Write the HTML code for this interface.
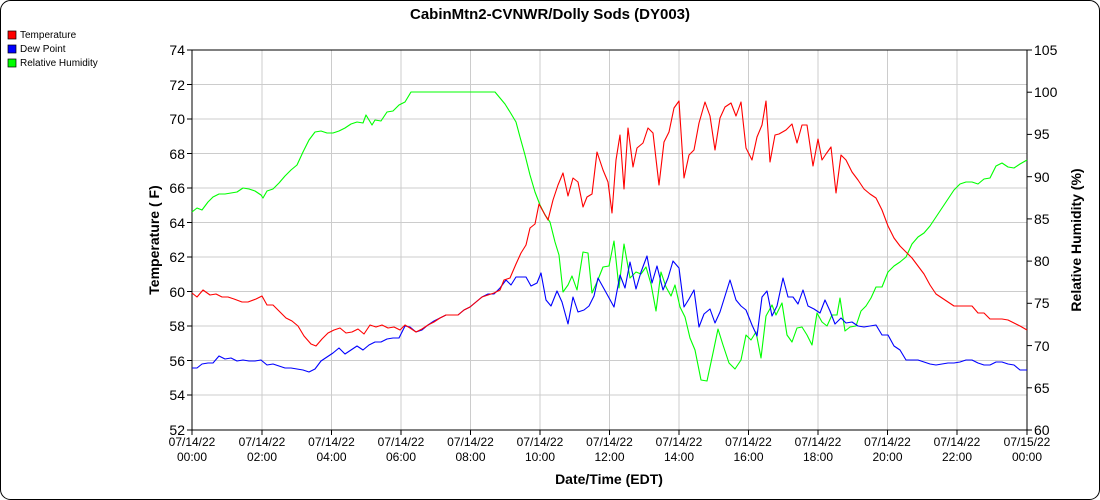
<!DOCTYPE html>
<html><head><meta charset="utf-8"><style>
html,body{margin:0;padding:0;background:#fff}
svg{display:block;font-family:"Liberation Sans",sans-serif}
</style></head><body>
<svg width="1100" height="500" viewBox="0 0 1100 500">
<rect x="0.5" y="0.5" width="1099" height="499" rx="10" fill="#fff" stroke="#000"/>
<text x="550" y="19" font-size="15" font-weight="bold" text-anchor="middle">CabinMtn2-CVNWR/Dolly Sods (DY003)</text>
<rect x="8" y="31" width="8" height="8" fill="#f00" stroke="#000" stroke-width="0.7"/>
<text x="20" y="38" font-size="10">Temperature</text>
<rect x="8" y="45" width="8" height="8" fill="#00f" stroke="#000" stroke-width="0.7"/>
<text x="20" y="52" font-size="10">Dew Point</text>
<rect x="8" y="59" width="8" height="8" fill="#0f0" stroke="#000" stroke-width="0.7"/>
<text x="20" y="66" font-size="10">Relative Humidity</text>
<g stroke="#ccc" stroke-width="1">
<line x1="262" y1="50" x2="262" y2="430"/><line x1="331.5" y1="50" x2="331.5" y2="430"/><line x1="401" y1="50" x2="401" y2="430"/><line x1="470.5" y1="50" x2="470.5" y2="430"/><line x1="540" y1="50" x2="540" y2="430"/><line x1="609.5" y1="50" x2="609.5" y2="430"/><line x1="679" y1="50" x2="679" y2="430"/><line x1="748.5" y1="50" x2="748.5" y2="430"/><line x1="818" y1="50" x2="818" y2="430"/><line x1="887.5" y1="50" x2="887.5" y2="430"/><line x1="957" y1="50" x2="957" y2="430"/>
<line x1="192" y1="84.5" x2="1027" y2="84.5"/><line x1="192" y1="119" x2="1027" y2="119"/><line x1="192" y1="153.5" x2="1027" y2="153.5"/><line x1="192" y1="188" x2="1027" y2="188"/><line x1="192" y1="222.5" x2="1027" y2="222.5"/><line x1="192" y1="257" x2="1027" y2="257"/><line x1="192" y1="291.5" x2="1027" y2="291.5"/><line x1="192" y1="326" x2="1027" y2="326"/><line x1="192" y1="360.5" x2="1027" y2="360.5"/><line x1="192" y1="395" x2="1027" y2="395"/>
</g>
<rect x="192" y="50" width="835" height="380" fill="none" stroke="#000"/>
<g stroke="#000">
<line x1="187" y1="50" x2="192" y2="50"/><line x1="187" y1="84.5" x2="192" y2="84.5"/><line x1="187" y1="119" x2="192" y2="119"/><line x1="187" y1="153.5" x2="192" y2="153.5"/><line x1="187" y1="188" x2="192" y2="188"/><line x1="187" y1="222.5" x2="192" y2="222.5"/><line x1="187" y1="257" x2="192" y2="257"/><line x1="187" y1="291.5" x2="192" y2="291.5"/><line x1="187" y1="326" x2="192" y2="326"/><line x1="187" y1="360.5" x2="192" y2="360.5"/><line x1="187" y1="395" x2="192" y2="395"/><line x1="187" y1="430" x2="192" y2="430"/>
<line x1="1027" y1="50" x2="1032" y2="50"/><line x1="1027" y1="92.2" x2="1032" y2="92.2"/><line x1="1027" y1="134.4" x2="1032" y2="134.4"/><line x1="1027" y1="176.7" x2="1032" y2="176.7"/><line x1="1027" y1="218.9" x2="1032" y2="218.9"/><line x1="1027" y1="261.1" x2="1032" y2="261.1"/><line x1="1027" y1="303.3" x2="1032" y2="303.3"/><line x1="1027" y1="345.6" x2="1032" y2="345.6"/><line x1="1027" y1="387.8" x2="1032" y2="387.8"/><line x1="1027" y1="430" x2="1032" y2="430"/>
<line x1="192" y1="430" x2="192" y2="435"/><line x1="262" y1="430" x2="262" y2="435"/><line x1="331.5" y1="430" x2="331.5" y2="435"/><line x1="401" y1="430" x2="401" y2="435"/><line x1="470.5" y1="430" x2="470.5" y2="435"/><line x1="540" y1="430" x2="540" y2="435"/><line x1="609.5" y1="430" x2="609.5" y2="435"/><line x1="679" y1="430" x2="679" y2="435"/><line x1="748.5" y1="430" x2="748.5" y2="435"/><line x1="818" y1="430" x2="818" y2="435"/><line x1="887.5" y1="430" x2="887.5" y2="435"/><line x1="957" y1="430" x2="957" y2="435"/><line x1="1027" y1="430" x2="1027" y2="435"/>
</g>
<g font-size="14" text-anchor="end">
<text x="185" y="55">74</text><text x="185" y="90">72</text><text x="185" y="124">70</text><text x="185" y="159">68</text><text x="185" y="193">66</text><text x="185" y="228">64</text><text x="185" y="262">62</text><text x="185" y="297">60</text><text x="185" y="331">58</text><text x="185" y="366">56</text><text x="185" y="400">54</text><text x="185" y="435">52</text>
</g>
<g font-size="14" text-anchor="start">
<text x="1034" y="55">105</text><text x="1034" y="97">100</text><text x="1034" y="139">95</text><text x="1034" y="182">90</text><text x="1034" y="224">85</text><text x="1034" y="266">80</text><text x="1034" y="308">75</text><text x="1034" y="351">70</text><text x="1034" y="393">65</text><text x="1034" y="435">60</text>
</g>
<g font-size="12" text-anchor="middle">
<text x="192" y="446">07/14/22</text><text x="192" y="461">00:00</text>
<text x="262" y="446">07/14/22</text><text x="262" y="461">02:00</text>
<text x="331.5" y="446">07/14/22</text><text x="331.5" y="461">04:00</text>
<text x="401" y="446">07/14/22</text><text x="401" y="461">06:00</text>
<text x="470.5" y="446">07/14/22</text><text x="470.5" y="461">08:00</text>
<text x="540" y="446">07/14/22</text><text x="540" y="461">10:00</text>
<text x="609.5" y="446">07/14/22</text><text x="609.5" y="461">12:00</text>
<text x="679" y="446">07/14/22</text><text x="679" y="461">14:00</text>
<text x="748.5" y="446">07/14/22</text><text x="748.5" y="461">16:00</text>
<text x="818" y="446">07/14/22</text><text x="818" y="461">18:00</text>
<text x="887.5" y="446">07/14/22</text><text x="887.5" y="461">20:00</text>
<text x="957" y="446">07/14/22</text><text x="957" y="461">22:00</text>
<text x="1027" y="446">07/15/22</text><text x="1027" y="461">00:00</text>
</g>
<text x="609" y="484" font-size="14" font-weight="bold" text-anchor="middle">Date/Time (EDT)</text>
<text transform="translate(159,240) rotate(-90)" font-size="14" font-weight="bold" text-anchor="middle">Temperature ( F)</text>
<text transform="translate(1081,240) rotate(-90)" font-size="14" font-weight="bold" text-anchor="middle">Relative Humidity (%)</text>
<g fill="none" stroke-width="1.1" stroke-linejoin="round">
<polyline stroke="#0f0" points="192,212 197,208 202,210 208,202 213,197 219,194 225,194 231,193 237,192 243,188 249,189 255,191 261,195 263,198 267,191 273,189 279,183 285,176 291,170 297,165 303,152 309,140 315,132 321,131 327,133 333,133 339,131 345,128 351,124 357,122 363,123 366,115 372,125 375,120 381,121 387,112 393,111 399,105 405,102 411,92 495,92 500,98 505,104 510,112 516,122 520,137 525,155 530,175 535,192 540,205 545,215 550,222 555,242 559,255 563,292 568,285 572,276 577,290 583,252 588,253 592,293 597,282 603,267 609,266 614,241 619,288 624,244 630,278 636,272 641,274 646,267 651,284 656,311 661,272 666,287 671,296 675,285 680,307 685,317 690,338 695,350 701,380 707,381 713,353 718,329 723,345 729,363 735,369 741,360 746,335 751,340 756,332 761,358 766,316 772,305 776,315 782,303 787,335 792,342 797,328 802,327 807,335 812,345 817,313 822,322 827,326 832,315 837,315 840,298 845,331 850,327 856,326 861,311 866,306 871,298 876,287 882,287 888,272 894,266 900,262 906,257 912,244 918,237 924,233 930,226 936,217 942,208 948,199 954,190 960,184 966,182 972,182 978,184 984,179 990,178 996,166 1002,163 1008,167 1014,168 1020,164 1027,160"/>
<polyline stroke="#00f" points="192,368 197,368 202,364 208,363 213,363 219,356 225,359 231,358 237,361 243,360 249,361 255,361 261,360 267,365 273,364 279,366 285,368 291,368 297,369 303,370 309,372 315,369 321,361 327,357 333,353 339,348 345,354 351,350 357,346 363,350 369,345 375,342 381,342 387,339 393,338 399,338 405,326 410,327 416,332 422,330 428,325 434,321 440,318 446,315 452,315 458,315 464,310 470,307 476,302 482,297 488,294 494,294 500,288 506,280 511,285 516,277 521,277 526,277 531,286 537,283 541,273 546,300 551,306 557,291 562,302 568,324 573,297 578,312 584,310 589,306 594,296 598,278 603,287 608,296 614,307 620,275 625,288 630,262 636,289 641,272 647,256 652,283 657,266 663,290 668,278 673,261 679,268 684,307 689,299 694,290 699,327 704,314 710,309 715,323 720,312 725,296 730,280 736,300 741,306 746,310 752,325 757,336 762,297 767,291 772,316 777,306 783,278 788,297 793,297 798,304 803,290 808,306 814,309 820,313 825,300 830,311 835,324 841,318 846,323 852,322 858,326 864,327 870,326 876,325 882,335 888,335 894,346 900,350 906,360 912,360 918,360 924,362 930,364 936,365 942,364 948,363 954,363 960,362 966,360 972,360 978,363 984,365 990,365 996,362 1002,362 1008,364 1014,365 1020,370 1027,370"/>
<polyline stroke="#f00" points="192,293 197,297 203,290 210,295 216,294 222,297 228,297 234,299 242,302 248,302 256,299 262,296 267,305 273,305 280,312 286,318 292,321 298,326 304,336 311,344 316,346 322,339 328,333 334,330 340,328 346,333 352,332 358,329 364,334 370,325 376,327 382,325 388,328 394,327 400,330 405,325 410,328 416,332 422,329 428,325 434,322 440,318 446,315 452,315 458,315 464,310 470,307 476,302 482,297 488,295 494,293 500,290 504,280 510,278 516,264 521,253 526,245 530,228 535,224 539,204 544,213 548,220 553,200 558,185 563,173 568,196 573,178 578,182 583,207 587,197 592,194 597,152 603,170 608,182 612,213 616,160 620,135 624,189 628,128 633,167 637,148 643,143 648,128 653,133 659,185 664,142 669,132 674,108 679,101 684,178 689,155 694,150 699,123 705,102 710,116 715,150 720,118 725,107 731,103 736,116 741,102 746,148 752,160 757,137 762,125 766,101 770,162 775,135 779,134 786,130 792,124 797,143 802,125 807,125 813,166 818,139 822,160 826,154 831,147 836,193 841,155 846,160 852,172 858,180 864,189 870,194 876,198 882,210 888,226 894,238 900,246 906,252 912,258 918,266 924,274 930,285 936,294 942,298 948,302 954,306 972,306 978,313 984,313 990,319 1002,319 1008,320 1014,323 1020,326 1027,330"/>
</g>
</svg>
</body></html>
